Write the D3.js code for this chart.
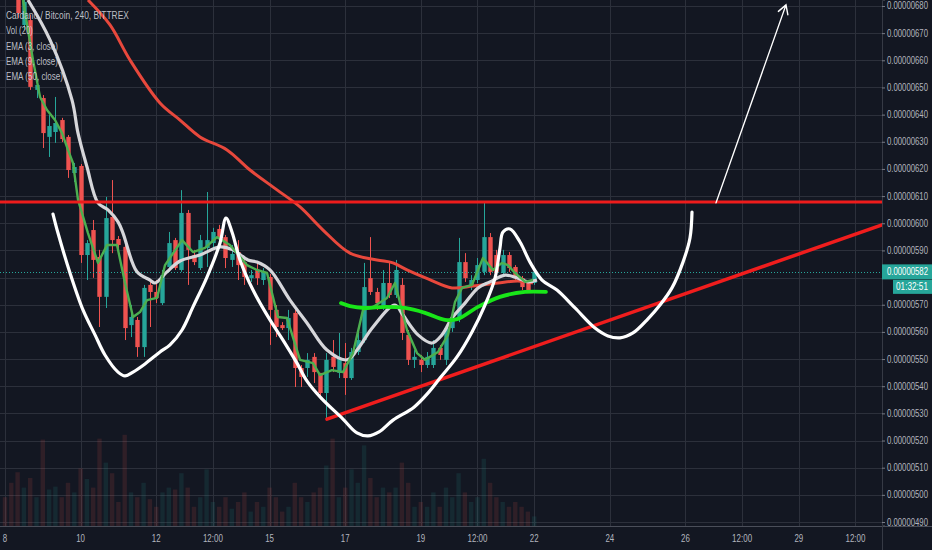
<!DOCTYPE html>
<html><head><meta charset="utf-8">
<script src="https://cdn.jsdelivr.net/npm/d3@7/dist/d3.min.js"></script>
<style>html,body{margin:0;padding:0;background:#131722;overflow:hidden}</style>
</head><body><svg id="c" width="932" height="550"></svg>
<script>
// ---- DATA (prices in units of 1e-8 BTC, x in 4h bars from the 8th 00:00) ----
const candles = [ // [open, high, low, close]
[704.3,708.0,689.6,693.3],[693.3,695.1,682.2,684.1],[684.1,685.2,675.6,677.4],[673.0,682.2,671.2,681.5],
[674.8,676.7,649.1,650.2],[649.1,652.7,646.1,650.9],[646.1,647.2,627.7,633.2],[631.8,639.9,624.4,635.8],
[633.6,646.5,629.6,636.9],[638.0,638.8,629.9,631.0],[631.8,632.5,616.7,619.6],[618.5,622.2,615.2,620.7],
[621.1,621.8,585.4,588.3],[588.3,593.8,579.1,592.7],[597.5,601.2,579.9,586.5],[587.6,590.2,561.8,572.9],
[572.9,609.7,568.8,601.9],[602.3,615.9,589.0,593.8],[594.2,595.3,590.2,592.0],[591.3,592.4,557.0,561.4],
[562.5,569.9,558.1,565.5],[564.4,565.5,550.8,554.4],[554.4,577.3,550.8,576.2],[577.3,579.5,561.8,574.7],
[574.7,579.1,570.6,572.5],[570.6,582.8,569.9,580.9],[583.9,596.8,582.1,592.7],[593.8,594.6,582.8,583.5],
[582.8,612.2,582.1,603.8],[603.8,604.9,577.3,590.2],[588.3,590.2,584.6,585.7],[583.5,595.7,582.8,593.8],
[590.9,611.5,583.9,593.8],[592.7,598.3,590.9,596.8],[597.9,599.4,593.8,594.9],[594.9,595.7,583.5,587.2],
[586.5,592.0,583.9,588.7],[589.4,593.8,579.1,584.6],[585.7,587.2,577.3,580.2],[579.8,582.8,578.4,580.9],
[582.8,585.7,577.3,579.8],[579.1,583.5,577.3,582.1],[580.2,581.3,555.2,568.1],[568.1,569.9,558.1,561.8],
[562.5,563.6,560.7,561.4],[561.4,568.1,557.0,565.1],[567.0,568.1,539.7,546.7],[546.7,547.8,539.7,543.4],
[546.7,552.2,543.4,549.7],[550.8,552.2,541.2,545.2],[544.9,544.9,535.1,537.5],[537.5,552.2,527.6,549.7],
[550.8,557.0,545.2,547.1],[544.9,559.6,543.0,550.4],[548.5,555.9,536.8,543.0],[543.0,554.1,542.3,552.6],
[552.6,560.7,551.5,557.0],[557.0,585.4,556.0,576.5],[579.8,594.9,573.6,574.7],[574.7,576.2,568.1,570.6],
[569.2,582.8,568.1,578.0],[578.0,585.7,572.5,573.6],[573.6,586.5,572.5,582.8],[577.3,579.8,557.0,559.6],
[558.9,560.7,547.8,549.7],[549.7,553.3,546.7,550.8],[549.7,551.5,545.2,547.8],[547.8,552.6,546.7,550.8],
[547.8,557.0,546.7,554.1],[554.1,555.2,549.7,551.5],[549.7,562.5,547.8,561.4],[561.4,566.2,560.0,565.1],
[565.1,594.6,563.6,585.7],[585.7,589.0,578.4,579.8],[577.3,580.9,575.4,579.1],[579.1,587.2,578.0,584.6],
[582.1,607.8,580.9,594.9],[594.9,596.4,580.9,582.1],[588.3,590.2,579.8,581.7],[581.7,590.2,580.6,588.3],
[588.3,589.4,582.1,583.5],[583.9,584.6,578.4,579.8],[579.8,580.6,575.4,576.5],[578.4,579.1,574.7,575.4],
[578.0,582.8,577.3,582.1]
];
const volumes = [30,45,56,40,50,30,90,38,41,30,45,35,60,49,40,91,66,55,25,95,35,30,45,28,20,35,40,38,55,40,
20,30,59,25,20,30,18,25,35,15,25,20,40,30,15,20,45,30,25,35,40,63,91,30,40,59,45,84,50,30,
40,35,40,66,45,20,25,20,35,20,40,30,55,35,25,30,70,45,30,25,20,25,20,15,10];

const ema3 = [[2.86,682.2],[4.44,660.1],[5.56,646.5],[6.67,641.7],[7.94,638.0],[9.05,633.2],[10.0,627.0],[10.79,622.2],
[11.59,608.6],[13.17,596.4],[14.76,585.4],[16.19,592.0],[17.78,592.0],[19.05,578.0],[20.32,565.5],[21.43,567.3],
[22.54,571.7],[24.13,572.5],[25.4,584.6],[28.1,593.8],[29.84,589.4],[31.75,590.9],[33.65,594.9],[35.71,592.0],
[38.41,584.6],[40.0,582.8],[41.59,581.7],[43.33,565.5],[44.76,565.1],[46.83,549.7],[48.89,548.5],[50.0,544.1],
[51.9,545.9],[53.65,545.2],[55.24,552.2],[56.83,568.1],[58.41,569.2],[60.63,572.5],[61.9,578.0],[63.81,560.7],
[65.4,552.2],[66.67,549.7],[68.73,552.6],[70.32,558.9],[71.43,571.0],[72.54,576.2],[74.13,577.3],[75.87,587.2],
[77.46,582.8],[78.89,585.4],[79.84,584.6],[80.95,581.7],[82.54,578.4],[83.81,579.1]];
const ema9 = [[3.65,682.2],[7.14,667.5],[10.63,645.4],[11.59,633.2],[13.02,620.7],[14.76,607.5],[16.35,604.9],
[17.94,600.5],[18.73,596.4],[20.95,582.1],[23.02,579.1],[23.81,578.0],[25.71,582.1],[27.78,586.1],[30.95,588.3],
[34.13,591.3],[36.19,590.2],[38.57,586.5],[40.0,585.7],[42.06,582.8],[45.24,571.7],[47.94,563.3],[51.11,553.3],
[54.29,549.7],[55.87,553.3],[58.41,561.8],[61.9,569.9],[63.17,566.2],[65.56,558.9],[67.78,555.9],[69.37,558.9],
[70.95,565.1],[73.02,570.6],[75.08,576.2],[76.98,578.4],[79.37,580.9],[81.43,579.8],[83.02,578.4],[84.44,579.1]];
const ema50 = [[13.17,682.2],[16.67,673.0],[19.84,660.1],[24.6,644.3],[27.78,638.0],[30.95,631.8],[35.24,627.0],
[38.89,619.6],[43.17,612.3],[46.83,606.0],[50.48,597.5],[54.76,589.0],[59.05,586.5],[61.59,585.4],[63.81,582.8],
[67.14,579.5],[70.95,576.2],[74.29,576.9],[78.25,578.0],[81.43,578.7],[83.81,578.0]];

// hand-drawn annotations
const greenCurve = [[53.33,570.6],[54.76,569.5],[57.14,568.8],[60.32,569.2],[63.49,568.8],[66.67,567.0],
[69.84,564.4],[71.9,564.8],[75.08,569.2],[78.57,572.9],[82.54,574.7],[85.87,574.7]];
const whiteCurve = [[7.62,603.4],[8.41,596.4],[10.32,581.7],[12.38,568.1],[14.29,558.9],[15.87,551.5],[17.94,545.2],
[19.05,543.8],[20.32,545.2],[22.22,548.2],[24.6,552.6],[26.19,555.2],[28.1,560.7],[29.84,569.2],[32.06,580.2],
[34.13,592.7],[35.08,601.9],[36.03,596.8],[37.3,586.5],[39.37,575.4],[42.06,564.4],[44.13,557.0],[46.35,548.5],
[47.94,541.9],[50.16,535.7],[53.65,527.9],[55.87,522.8],[57.62,521.7],[59.37,523.2],[61.59,527.5],[64.92,532.3],
[67.3,537.9],[69.05,543.0],[71.75,550.8],[74.13,560.0],[76.19,569.9],[77.78,579.8],[78.57,590.9],[79.05,596.8],
[80.16,597.9],[81.75,593.1],[83.33,585.7],[85.24,579.1],[87.62,575.4],[90.48,568.8],[93.65,561.4],[95.71,558.5],
[97.62,557.8],[99.68,559.6],[102.06,564.8],[103.97,569.9],[105.87,576.2],[107.62,585.7],[108.73,594.6],[109.05,604.1]];
const resistance = 607.8;
const trendLine = [[51.11,527.9],[139.21,599.4]];
const arrow = [[112.86,607.5],[123.97,680.4]];

const priceTicks = [490,500,510,520,530,540,550,560,570,580,590,600,610,620,630,640,650,660,670,680];
const timeTicks = [0,12,24,33,42,54,66,75,84,96,108,117,126,135];
const timeLabels = ["8","10","12","12:00","15","17","19","12:00","22","24","26","12:00","29","12:00"];
const legendLines = ["Cardano / Bitcoin, 240, BITTREX","Vol (20)","EMA (3, close)","EMA (9, close)","EMA (50, close)"];
const legendWidths = [123,27,52,52,57];
const countdown = "01:32:51";

// ---- CHART ----
const W = 932, H = 550, PR = 882, PB = 526;
const svg = d3.select('#c');
const x = d3.scaleLinear().domain([-0.794, 139.21]).range([0, PR]);
const y = d3.scaleLinear().domain([488.9, 682.2]).range([525, 0]);
const vy = d3.scaleLinear().domain([0, 100]).range([PB, 430]);
const UP = '#26a69a', DN = '#ef5350';
const font = "'Liberation Sans',Arial,sans-serif";

// place a text at (tx,ty) squeezed horizontally to the given width
function fitText(parent, str, tx, ty, width, size, fill, anchor) {
  const g = parent.append('g').attr('transform', `translate(${tx},${ty})`);
  const t = g.append('text').text(str).attr('font-size', size).attr('font-family', font).attr('fill', fill);
  const natural = t.node().getComputedTextLength();
  const s = Math.min(1, width / natural);
  const off = anchor === 'middle' ? -natural / 2 : 0;
  t.attr('x', off);
  g.attr('transform', `translate(${tx},${ty}) scale(${s},1)`);
  return t;
}

svg.append('rect').attr('width', W).attr('height', H).attr('fill', '#131722');
svg.append('defs').append('clipPath').attr('id', 'clip')
  .append('rect').attr('width', PR).attr('height', PB);

const plot = svg.append('g').attr('clip-path', 'url(#clip)');
// grid
plot.append('g').selectAll('line').data(priceTicks).join('line')
  .attr('x1', 0).attr('x2', PR)
  .attr('y1', d => Math.round(y(d)) + 0.5).attr('y2', d => Math.round(y(d)) + 0.5)
  .attr('stroke', '#2c303b').attr('stroke-width', 1);
plot.append('g').selectAll('line').data(timeTicks).join('line')
  .attr('y1', 0).attr('y2', PB)
  .attr('x1', d => Math.round(x(d)) + 0.5).attr('x2', d => Math.round(x(d)) + 0.5)
  .attr('stroke', '#2c303b').attr('stroke-width', 1);

// volume
const bw = 4.4;
plot.append('g').selectAll('rect').data(volumes).join('rect')
  .attr('x', (d, i) => x(i) - bw / 2).attr('width', bw)
  .attr('y', d => vy(d)).attr('height', d => PB - vy(d))
  .attr('fill', (d, i) => candles[i][3] >= candles[i][0] ? UP : DN)
  .attr('opacity', 0.13);

// candles
const cg = plot.append('g').selectAll('g').data(candles).join('g');
cg.append('line')
  .attr('x1', (d, i) => Math.round(x(i)) + 0.5).attr('x2', (d, i) => Math.round(x(i)) + 0.5)
  .attr('y1', d => y(d[1])).attr('y2', d => y(d[2]))
  .attr('stroke', d => d[3] >= d[0] ? UP : DN).attr('stroke-width', 1);
cg.append('rect')
  .attr('x', (d, i) => Math.round(x(i)) + 0.5 - bw / 2).attr('width', bw)
  .attr('y', d => y(Math.max(d[0], d[3])))
  .attr('height', d => Math.max(1, Math.abs(y(d[0]) - y(d[3]))))
  .attr('fill', d => d[3] >= d[0] ? UP : DN);

// current price dotted line
const last = candles[candles.length - 1][3];
plot.append('line').attr('x1', 0).attr('x2', PR)
  .attr('y1', Math.round(y(last)) + 0.5).attr('y2', Math.round(y(last)) + 0.5)
  .attr('stroke', UP).attr('stroke-width', 1).attr('stroke-dasharray', '1,2');

const line = d3.line().x(d => x(d[0])).y(d => y(d[1]));
const smooth = d3.line().x(d => x(d[0])).y(d => y(d[1])).curve(d3.curveCatmullRom.alpha(0.5));

plot.append('path').datum(ema50).attr('d', smooth).attr('fill', 'none')
  .attr('stroke', '#e8483c').attr('stroke-width', 3).attr('stroke-linejoin', 'round');
plot.append('path').datum(ema9).attr('d', smooth).attr('fill', 'none')
  .attr('stroke', '#d6d6da').attr('stroke-width', 3.2).attr('stroke-linejoin', 'round');
plot.append('path').datum(ema3).attr('d', line).attr('fill', 'none')
  .attr('stroke', '#4caf50').attr('stroke-width', 2.4).attr('stroke-linejoin', 'round');

// annotations
plot.append('line').attr('x1', 0).attr('x2', PR)
  .attr('y1', y(resistance)).attr('y2', y(resistance))
  .attr('stroke', '#ee1c1c').attr('stroke-width', 3);
plot.append('path').datum(trendLine).attr('d', line).attr('fill', 'none')
  .attr('stroke', '#f01d1d').attr('stroke-width', 3.5).attr('stroke-linecap', 'round');
plot.append('path').datum(greenCurve).attr('d', smooth).attr('fill', 'none')
  .attr('stroke', '#19e619').attr('stroke-width', 3.8).attr('stroke-linecap', 'round');
plot.append('path').datum(whiteCurve).attr('d', smooth).attr('fill', 'none')
  .attr('stroke', '#ffffff').attr('stroke-width', 3.2).attr('stroke-linecap', 'round').attr('stroke-linejoin', 'round');
// arrow
const ax0 = x(arrow[0][0]), ay0 = y(arrow[0][1]), ax1 = x(arrow[1][0]), ay1 = y(arrow[1][1]);
const ang = Math.atan2(ay1 - ay0, ax1 - ax0);
const hl = 10, ha = Math.PI / 6;
plot.append('path')
  .attr('d', `M${ax0},${ay0}L${ax1},${ay1}M${ax1 - hl * Math.cos(ang - ha)},${ay1 - hl * Math.sin(ang - ha)}L${ax1},${ay1}L${ax1 - hl * Math.cos(ang + ha)},${ay1 - hl * Math.sin(ang + ha)}`)
  .attr('fill', 'none').attr('stroke', '#ffffff').attr('stroke-width', 1.4).attr('stroke-linecap', 'round');

// y axis (labels hidden where the current-price tag covers them)
const ly = y(last);
const yAxis = svg.append('g').attr('transform', `translate(${PR},0)`)
  .call(d3.axisRight(y).tickValues(priceTicks).tickFormat('').tickSize(3));
yAxis.select('.domain').attr('stroke', '#363a45');
yAxis.selectAll('.tick line').attr('stroke', '#787b86');
const ylab = svg.append('g');
priceTicks.filter(d => Math.abs(y(d) - ly) > 14).forEach(d => {
  fitText(ylab, (d * 1e-8).toFixed(8), PR + 5, y(d) + 3.5, 41, 10, '#b2b5be', 'start');
});

// x axis area
svg.append('rect').attr('x', 0).attr('y', PB + 1).attr('width', W).attr('height', H - PB - 1).attr('fill', '#131722');
svg.append('line').attr('x1', 0).attr('x2', W).attr('y1', PB + 0.5).attr('y2', PB + 0.5)
  .attr('stroke', '#4a4e59').attr('stroke-width', 1);
const xAxis = svg.append('g').attr('transform', `translate(0,${PB})`)
  .call(d3.axisBottom(x).tickValues(timeTicks).tickFormat('').tickSize(0));
xAxis.select('.domain').remove();
const xlab = svg.append('g');
timeTicks.forEach((d, i) => {
  const n = timeLabels[i].length;
  fitText(xlab, timeLabels[i], x(d), PB + 15.5, n === 5 ? 20 : n * 4.4, 10, '#b2b5be', 'middle');
});
svg.append('line').attr('x1', PR + 0.5).attr('x2', PR + 0.5).attr('y1', PB).attr('y2', H).attr('stroke', '#363a45');

// current price label
const lab = svg.append('g');
lab.append('rect').attr('x', PR).attr('y', ly - 7.5).attr('width', W - PR).attr('height', 15).attr('fill', UP);
fitText(lab, (Math.round(last) * 1e-8).toFixed(8), PR + 5, ly + 3.5, 41, 10, '#ffffff', 'start');
lab.append('rect').attr('x', PR + 11).attr('y', ly + 8).attr('width', W - PR - 11).attr('height', 14).attr('fill', UP);
fitText(lab, countdown, PR + 14, ly + 18.5, 32, 10, '#ffffff', 'start');

// legend
const leg = svg.append('g');
legendLines.forEach((d, i) => {
  fitText(leg, d, 6, 19 + i * 15.3, legendWidths[i], 11.5, '#d1d4dc', 'start').attr('fill-opacity', 0.9);
});
</script>
</body></html>
